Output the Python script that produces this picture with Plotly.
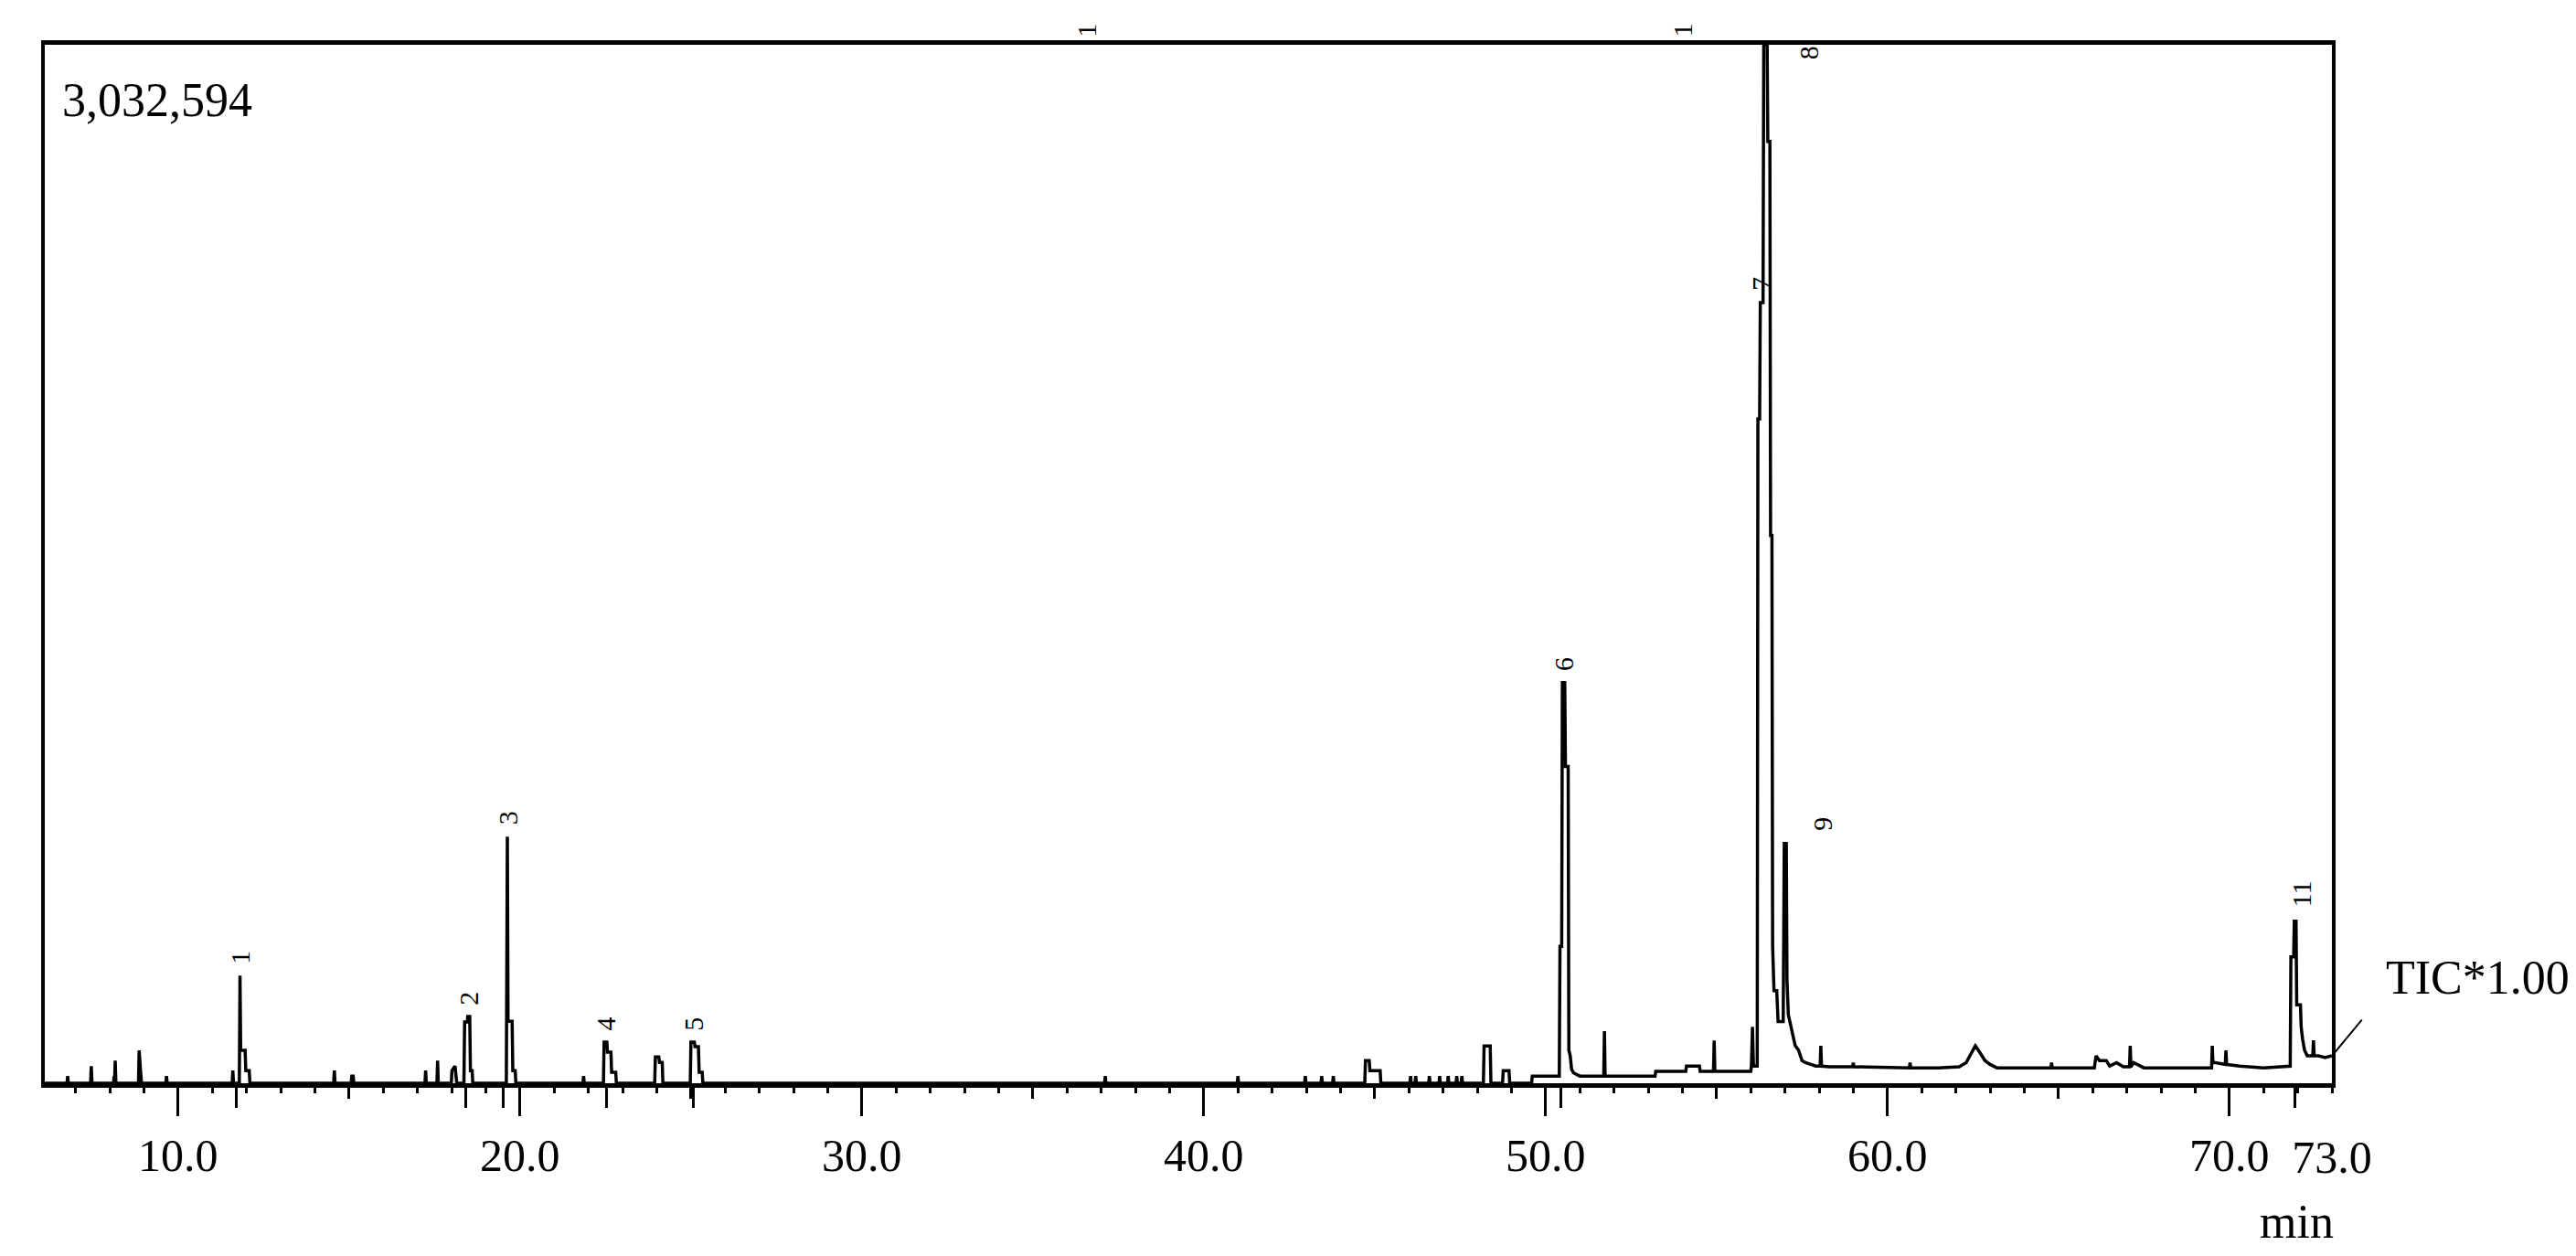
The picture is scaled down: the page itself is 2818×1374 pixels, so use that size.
import plotly.graph_objects as go

# ---- chromatogram trace (retention time in min, TIC intensity in counts) ----
# 6.1 - 26 min
rt_a = [6.10, 6.75, 6.77, 6.79, 7.44, 7.46, 7.48, 8.11, 8.13, 8.14, 8.16, 8.18,
        8.84, 8.86, 8.90, 8.93, 9.64, 9.66, 9.68,
        11.58, 11.60, 11.62, 11.79, 11.81, 11.83, 11.96, 11.98, 12.08, 12.10,
        14.55, 14.57, 14.59, 15.06, 15.08, 15.12, 15.14,
        17.22, 17.24, 17.26, 17.57, 17.59, 17.61, 17.99, 18.01, 18.10, 18.15,
        18.36, 18.38, 18.46, 18.47, 18.53, 18.55, 18.60, 18.62,
        19.60, 19.63, 19.65, 19.77, 19.79, 19.86, 19.88,
        21.84, 21.86, 21.88,
        22.44, 22.46, 22.54, 22.56, 22.66, 22.68, 22.80, 22.82,
        23.94, 23.96, 24.06, 24.08, 24.16, 24.18,
        24.98, 25.00, 25.10, 25.12, 25.22, 25.24, 25.33, 25.35]
tic_a = [0, 0, 21000, 0, 0, 50000, 0, 0, 21000, 0, 66000, 0,
         0, 96000, 37000, 0, 0, 21000, 0,
         0, 37000, 0, 0, 314000, 96000, 96000, 37000, 37000, 0,
         0, 37000, 0, 0, 21000, 21000, 0,
         0, 37000, 0, 0, 66000, 0, 0, 37000, 50000, 0,
         0, 179000, 179000, 195000, 195000, 37000, 37000, 0,
         0, 720000, 181000, 181000, 37000, 37000, 0,
         0, 21000, 0,
         0, 120000, 120000, 91000, 91000, 32000, 32000, 0,
         0, 77000, 77000, 61000, 61000, 0,
         0, 120000, 120000, 107000, 107000, 32000, 32000, 0]

# 26 - 50 min
rt_b = [37.10, 37.12, 37.14, 40.98, 41.00, 41.02, 42.95, 42.97, 42.99,
        43.43, 43.45, 43.47, 43.77, 43.79, 43.81,
        44.71, 44.73, 44.84, 44.86, 45.16, 45.18,
        46.03, 46.05, 46.07, 46.18, 46.20, 46.22, 46.58, 46.60, 46.62,
        46.88, 46.90, 46.92, 47.13, 47.15, 47.17, 47.38, 47.40, 47.42,
        47.53, 47.55, 47.57,
        48.18, 48.20, 48.38, 48.40, 48.74, 48.76, 48.93, 48.95,
        49.59, 49.61]
tic_b = [0, 21000, 0, 0, 21000, 0, 0, 21000, 0,
         0, 21000, 0, 0, 21000, 0,
         0, 66000, 66000, 37000, 37000, 0,
         0, 21000, 0, 0, 21000, 0, 0, 21000, 0,
         0, 21000, 0, 0, 21000, 0, 0, 21000, 0,
         0, 21000, 0,
         0, 109000, 109000, 0, 0, 37000, 37000, 0,
         0, 21000]

# 50 - 56 min (peak 6 and raised baseline)
rt_c = [50.40, 50.42, 50.47, 50.49, 50.56, 50.58, 50.66, 50.68, 50.72, 50.76,
        50.82, 51.00, 51.70, 51.72, 51.74, 53.20, 53.22, 54.10, 54.12,
        54.50, 54.52, 54.91, 54.93, 54.95, 56.00, 56.02, 56.05, 56.08, 56.12]
tic_c = [21000, 400000, 400000, 1170000, 1170000, 925000, 925000, 96000, 80000, 40000,
         30000, 21000, 21000, 152000, 21000, 21000, 35000, 35000, 50000,
         50000, 35000, 35000, 125000, 35000, 35000, 50000, 165000, 50000, 50000]

# 56 - 57.6 min (peaks 7, 8, 9)
rt_d = [56.19, 56.21, 56.26, 56.28, 56.36, 56.38, 56.48, 56.50, 56.56, 56.58,
        56.62, 56.64, 56.68, 56.76, 56.80, 56.95, 56.98, 57.04, 57.06, 57.10,
        57.20, 57.30, 57.40, 57.50, 57.60]
tic_d = [50000, 1940000, 1940000, 2280000, 2280000, 3032594, 3032594, 2750000, 2750000, 1600000,
         1600000, 400000, 270000, 270000, 180000, 180000, 700000, 700000, 300000, 200000,
         150000, 110000, 96000, 66000, 60000]

# 57.6 - 73 min (tail and peak 11)
rt_e = [57.75, 57.90, 58.03, 58.05, 58.07, 58.30, 58.98, 59.00, 59.02, 60.00,
        60.64, 60.66, 60.68, 61.50, 62.10, 62.30, 62.45, 62.57, 62.70, 62.85,
        63.00, 63.20, 64.00, 64.78, 64.80, 64.82, 65.50, 66.05, 66.10, 66.20,
        66.40, 66.50, 66.70, 66.90, 67.08, 67.10, 67.12, 67.20, 67.50, 68.50,
        69.48, 69.50, 69.52, 69.60, 69.80, 69.88, 69.90, 69.92, 70.30, 71.00,
        71.78, 71.80, 71.88, 71.90, 71.95, 71.97, 72.08, 72.10, 72.14, 72.20,
        72.28, 72.44, 72.46, 72.48, 72.60, 72.80, 73.00]
tic_e = [55000, 50000, 50000, 109000, 50000, 48000, 48000, 60000, 48000, 45000,
         45000, 60000, 45000, 45000, 48000, 60000, 90000, 109000, 90000, 66000,
         55000, 45000, 45000, 45000, 60000, 45000, 45000, 45000, 80000, 66000,
         66000, 50000, 60000, 48000, 48000, 109000, 48000, 60000, 45000, 45000,
         45000, 109000, 60000, 60000, 55000, 55000, 96000, 55000, 50000, 45000,
         50000, 369000, 369000, 473000, 473000, 229000, 229000, 165000, 130000, 96000,
         80000, 80000, 125000, 80000, 80000, 75000, 80000]

# ---- peak table ----
peak_labels = ["1", "2", "3", "4", "5", "6", "7", "8", "9", "11"]
peak_rt = [11.81, 18.50, 19.63, 22.50, 25.05, 50.52, 56.32, 56.43, 57.01, 71.92]
peak_height = [314000, 195000, 720000, 120000, 120000, 1170000, 2280000, 3032594, 700000, 473000]
peak_marker_rt = [11.69, 18.40, 19.52, 22.52, 25.06, 50.45, 71.93]
offscale_labels = ["1", "1"]
offscale_rt = [36.55, 54.0]

# ---- axis ----
x_range = [6.1, 73.0]
major_ticks = [10, 20, 30, 40, 50, 60, 70]
major_text = ["10.0", "20.0", "30.0", "40.0", "50.0", "60.0", "70.0"]
mid_ticks = [15, 25, 35, 45, 55, 65]
end_tick = [73.0]
end_text = ["73.0"]
max_intensity = 3032594

rt = rt_a + rt_b + rt_c + rt_d + rt_e
tic = tic_a + tic_b + tic_c + tic_d + tic_e
assert len(rt) == len(tic)

FONT = "Liberation Serif"
W, H = 2818, 1374
M = dict(l=41, r=275, t=41, b=197)
plot_h = H - M["t"] - M["b"]

fig = go.Figure()
fig.add_trace(go.Scatter(x=rt, y=tic, mode="lines",
                         line=dict(color="black", width=3.5),
                         showlegend=False, hoverinfo="skip", cliponaxis=False))

# helper traces so the overlay axes get drawn
for ax in ["x2", "x3", "x4"]:
    fig.add_trace(go.Scatter(x=rt[:1], y=tic[:1], xaxis=ax, mode="markers",
                             marker=dict(opacity=0), showlegend=False, hoverinfo="skip"))

common = dict(range=x_range, showgrid=False, zeroline=False, ticks="outside",
              tickcolor="black", tickwidth=3)

fig.update_layout(
    width=W, height=H, margin=M,
    paper_bgcolor="white", plot_bgcolor="white",
    showlegend=False,
    xaxis=dict(**common, tickmode="array", tickvals=major_ticks, ticktext=major_text,
               ticklen=31, showline=True, linewidth=5, linecolor="black", mirror=True,
               tickfont=dict(family=FONT, size=50, color="black"),
               minor=dict(tickmode="linear", tick0=0, dtick=1, ticks="outside",
                          ticklen=6, tickwidth=3, tickcolor="black", showgrid=False)),
    xaxis2=dict(**common, overlaying="x", anchor="y", side="bottom",
                tickmode="array", tickvals=mid_ticks, ticklen=16, showticklabels=False),
    xaxis3=dict(**common, overlaying="x", anchor="y", side="bottom",
                tickmode="array", tickvals=peak_marker_rt, ticklen=26, showticklabels=False),
    xaxis4=dict(**common, overlaying="x", anchor="y", side="bottom",
                tickmode="array", tickvals=end_tick, ticktext=end_text, ticklen=6,
                ticklabelstandoff=31,
                tickfont=dict(family=FONT, size=50, color="black")),
    yaxis=dict(range=[0, max_intensity], showgrid=False, zeroline=False,
               showticklabels=False, ticks="", showline=True, linewidth=4,
               linecolor="black", mirror=True),
)

# peak number labels (rotated, just above each apex)
label_shift = {"8": (47, -9 - 20), "9": (41, 22 - 20), "11": (7, 10)}
for lab, x, y in zip(peak_labels, peak_rt, peak_height):
    dx, dy = label_shift.get(lab, (0, 0))
    fig.add_annotation(x=x, y=y, xref="x", yref="y", text=lab, textangle=-90,
                       showarrow=False, xanchor="center", yanchor="middle",
                       xshift=dx, yshift=20 + dy,
                       font=dict(family=FONT, size=30, color="black"))

for lab, x in zip(offscale_labels, offscale_rt):
    fig.add_annotation(x=x, y=1 + 16 / plot_h, xref="x", yref="paper", text=lab,
                       textangle=-90, showarrow=False, xanchor="center", yanchor="middle",
                       font=dict(family=FONT, size=30, color="black"))

txt = dict(family=FONT, size=52, color="black")
fig.add_annotation(x=0.0068, y=0.947, xref="paper", yref="paper", text="3,032,594",
                   showarrow=False, xanchor="left", yanchor="middle", font=txt)
fig.add_annotation(x=1.0228, y=0.102, xref="paper", yref="paper", text="TIC*1.00",
                   showarrow=False, xanchor="left", yanchor="middle", font=txt)
fig.add_annotation(x=0.9848, y=-0.133, xref="paper", yref="paper", text="min",
                   showarrow=False, xanchor="center", yanchor="middle", font=txt)
# connector from the end of the trace towards the TIC label
fig.add_annotation(x=rt[-1], y=tic[-1], xref="x", yref="y", text="",
                   showarrow=True, arrowhead=0, arrowwidth=2, arrowcolor="black",
                   ax=34, ay=-41)

fig.write_html("out.html")
